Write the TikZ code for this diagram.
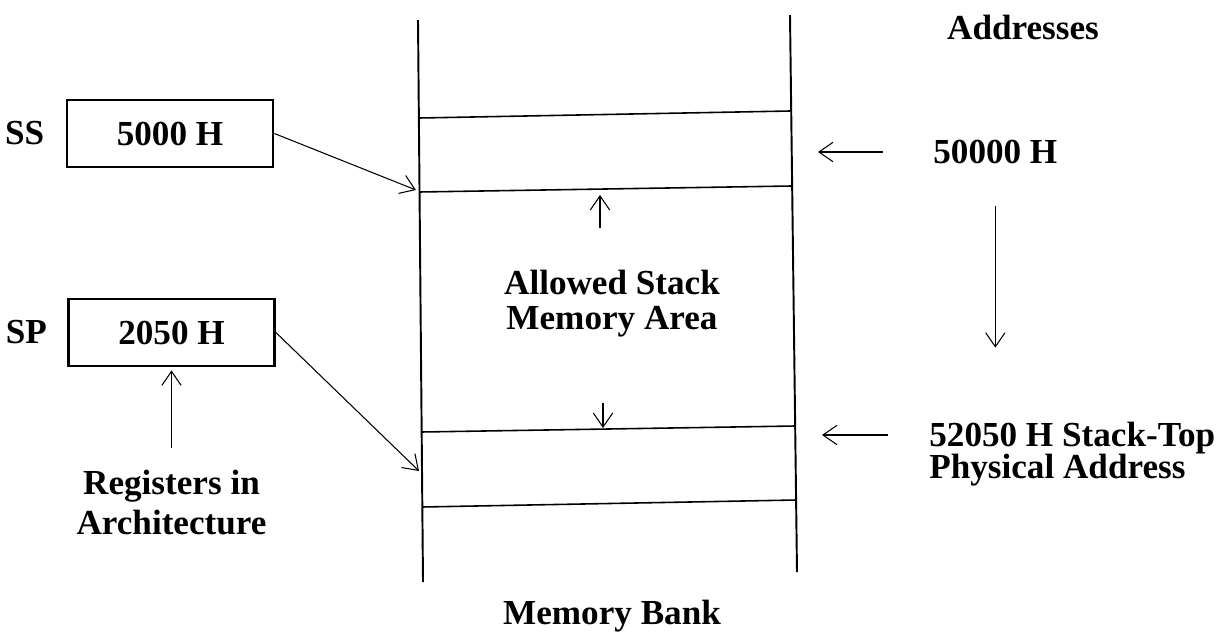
\documentclass[tikz,border=0pt]{standalone}
\usepackage{fontspec}
\setmainfont{Liberation Serif}
\usepackage{tikz}
\usetikzlibrary{arrows.meta}
\usetikzlibrary{calc}
\usetikzlibrary{positioning}

\begin{document}
\begin{tikzpicture}[x=0.02cm, y=-0.02cm, >={Straight Barb[length=8pt,width=11pt]},
        txt/.style={inner sep=0pt, font=\bfseries\fontsize{20}{20}\selectfont},
        reg/.style={txt, draw, line width=1.6pt, minimum width=4.12cm, minimum height=1.34cm},
        wall/.style={line width=1.1pt}, cell/.style={line width=0.9pt},
        ptr/.style={->, line width=0.6pt}]
        \useasboundingbox (0,0) rectangle (1231,633);
        % memory bank
        \coordinate (mtl) at (418,20);  \coordinate (mbl) at (423,582);
        \coordinate (mtr) at (790,15);  \coordinate (mbr) at (797,572);
        \draw[wall] (mtl) -- (mbl);
        \draw[wall] (mtr) -- (mbr);
        \draw[cell] (419,118) -- (790,111);
        \draw[cell] (419,192) -- (791,186);
        \draw[cell] (421,432) -- (795,426);
        \draw[cell] (422,507) -- (796,500);
        \node[txt] (bank) at (612,616) {Memory Bank};
        \node[txt, align=center] (area) at (612,304) {Allowed Stack\\Memory Area};
        \coordinate (upA) at (600,228);  \coordinate (upB) at (600,195);
        \coordinate (dnA) at (603,403);  \coordinate (dnB) at (603,428);
        \draw[ptr] (upA) -- (upB);
        \draw[ptr] (dnA) -- (dnB);
        
        \node[reg] (ss) at (170,133.5) {5000 H};
        \node[txt, left=0.42cm of ss] (sslbl) {SS};
        \node[reg] (sp) at (171.5,332.5) {2050 H};
        \node[txt, left=0.4cm of sp] (splbl) {SP};
        \node[txt, align=center, below=2.04cm of sp] (arch) {Registers in\\[2.8pt]Architecture};
        \draw[ptr, shorten <=0.42cm, shorten >=0.06cm] (arch) -- (sp);
        
        \coordinate (ssTip) at (416,190);
        \coordinate (spTip) at (419,471);
        \draw[ptr] (ss.east) -- (ssTip);
        \draw[ptr] (sp.east) -- (spTip);
        
        \node[txt] (addr) at (1023,27) {Addresses};
        \node[txt, anchor=west] (base) at (933,152) {50000 H};
        \node[txt, anchor=west, align=left] (top) at (929,454) {52050 H Stack-Top\\[-1.8pt]Physical Address};
        \coordinate (baseTip) at (818,152);
        \coordinate (topTip) at (822,435);
        \draw[ptr, shorten <=1cm] (base.west) -- (baseTip);
        \draw[ptr, shorten <=0.82cm] (top.west |- topTip) -- (topTip);
        \draw[ptr, shorten <=0.84cm, shorten >=1.48cm] (base.south) -- (base.south |- top.north);
\end{tikzpicture}
\end{document}
